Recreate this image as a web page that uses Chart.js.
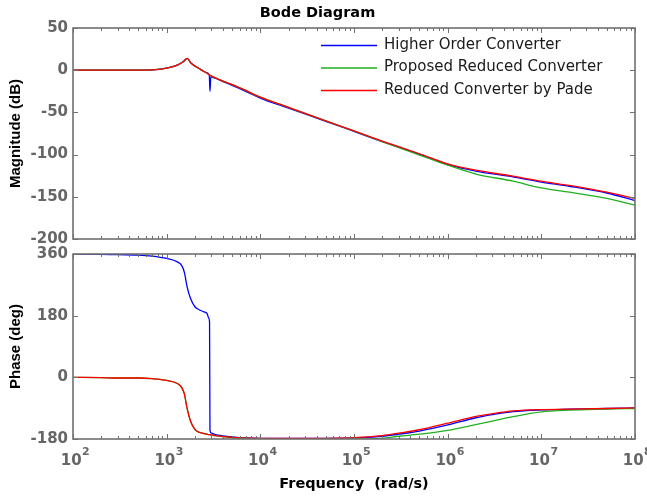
<!DOCTYPE html>
<html><head><meta charset="utf-8">
<script src="https://cdn.jsdelivr.net/npm/chart.js@4.4.1/dist/chart.umd.min.js"></script>
<style>
html,body{margin:0;padding:0;background:#fff;}
#wrap{position:relative;width:647px;height:499px;overflow:hidden;background:#fff;}
canvas{position:absolute;left:0;}
#c1{top:0px}
#c2{top:246px}
</style></head>
<body><div id="wrap"><canvas id="c1" width="647" height="246"></canvas><canvas id="c2" width="647" height="253"></canvas></div>
<script>
// ---------- data ----------
const seriesNames = ['Higher Order Converter', 'Proposed Reduced Converter', 'Reduced Converter by Pade'];
const seriesColors = ['#0000ff', '#1faf1f', '#ff0000'];

// magnitude (dB) vs frequency (rad/s)
const magFreq = [100, 200, 400, 700, 1000, 1300, 1500, 1660, 1800, 2000, 2300, 2600, 2850, 2900, 2960, 3300, 4000, 5000, 7000, 1e4, 2e4, 5e4, 1e5, 2e5, 5e5, 1e6, 2e6, 5e6, 1e7, 2e7, 5e7, 1e8];
const magHigher   = [0, 0, 0, 0.3, 2.5, 6, 10, 14, 9, 5, 1, -2.5, -5.5, -25, -8, -9.5, -13.5, -18, -25, -33, -45, -60.5, -72.5, -84.5, -99.5, -111.5, -119.5, -126.5, -132.5, -137.5, -145.5, -154.5];
const magProposed = [0, 0, 0, 0.5, 2.5, 6, 10, 14, 9, 5, 1, -2.5, -5.5, -6, -6.5, -9, -13, -17, -24, -32, -44, -60, -72, -84.5, -100.5, -112.5, -123, -131.5, -139.5, -144.5, -152, -160];
const magPade     = [0, 0, 0, 0.3, 2.5, 6, 10, 14, 9, 5, 1, -2.5, -5.5, -6, -6.5, -9, -13, -17, -24, -32, -44, -60, -72, -84, -99, -111, -118.5, -125.5, -131.5, -136.5, -144.5, -152];

// phase (deg) vs frequency (rad/s)
const phaseFreq = [100, 200, 300, 500, 700, 1000, 1300, 1450, 1550, 1650, 1800, 2000, 2200, 2500, 2700, 2820, 2870, 2900, 3000, 3300, 4000, 5000, 7000, 1e4, 2e4, 5e4, 1e5, 2e5, 3e5, 5e5, 1e6, 2e6, 3e6, 5e6, 1e7, 2e7, 5e7, 1e8];
const phaseHigher   = [360, 359, 358, 357, 354, 347, 337, 326, 305, 265, 230, 206, 198, 191, 186, 172, 160, -155, -163, -167, -171, -174, -177, -178, -178, -178, -177, -172, -166, -157, -139, -118, -109, -100, -95, -93, -91, -89];
const phaseProposed = [0, -1, -2, -2, -4, -9, -18, -30, -50, -90, -128, -152, -160, -164, -166, -167, -167, -167.5, -168, -170, -173, -176, -178, -179, -180, -180, -180, -178, -172, -166, -155, -138, -128, -115, -101, -96, -93, -91];
const phasePade     = [0, -1, -2, -2, -4, -9, -18, -30, -50, -90, -128, -152, -160, -164, -166, -167, -167, -167.5, -168, -170, -173, -175, -177, -178, -178, -178, -176, -170, -163, -153, -134, -114, -106, -98, -94, -93, -91, -89];

// ticks
const magTicks = [50, 0, -50, -100, -150, -200];
const phaseTicks = [360, 180, 0, -180];
const freqTicks = [1e2, 1e3, 1e4, 1e5, 1e6, 1e7, 1e8];
const freqTickBase = '10';
const freqTickExps = ['2', '3', '4', '5', '6', '7', '8'];

// ---------- styling helpers ----------
const AXIS_COLOR = '#707070';
const LABEL_GRAY = '#666666';
const TICK_FONT = {family: '"DejaVu Sans", sans-serif', size: 15, weight: 'bold'};
const YTITLE_FONT = {family: '"Liberation Sans", Arial, sans-serif', size: 15, weight: 'bold'};

function mkData(freq, vals) { return freq.map((f, i) => ({x: f, y: vals[i]})); }
function mkDatasets(freq, a, b, c) {
  return [a, b, c].map((vals, i) => ({
    label: seriesNames[i],
    data: mkData(freq, vals),
    borderColor: seriesColors[i],
    backgroundColor: seriesColors[i],
    borderWidth: 1.3,
    pointRadius: 0,
    fill: false,
    cubicInterpolationMode: 'monotone',
    order: 2 - i
  }));
}

const framePlugin = {
  id: 'matlabFrame',
  afterDatasetsDraw(chart) {
    const {ctx, chartArea: a, scales} = chart;
    const xs = scales.x, ys = scales.y;
    ctx.save();
    ctx.strokeStyle = AXIS_COLOR;
    ctx.lineWidth = 1;
    ctx.beginPath();
    for (let d = 2; d <= 8; d++) {
      for (let m = 1; m <= 9; m++) {
        const v = m * Math.pow(10, d);
        if (v > xs.max * 1.0001) break;
        const px = Math.round(xs.getPixelForValue(v)) + 0.5;
        const len = m === 1 ? 5 : 3;
        ctx.moveTo(px, a.bottom); ctx.lineTo(px, a.bottom - len);
        ctx.moveTo(px, a.top); ctx.lineTo(px, a.top + len);
      }
    }
    ys.ticks.forEach(t => {
      const py = Math.round(ys.getPixelForValue(t.value)) + 0.5;
      ctx.moveTo(a.left, py); ctx.lineTo(a.left + 5, py);
      ctx.moveTo(a.right, py); ctx.lineTo(a.right - 5, py);
    });
    ctx.stroke();
    ctx.lineWidth = 1.6;
    ctx.strokeRect(a.left, a.top, a.right - a.left, a.bottom - a.top);
    ctx.restore();
  }
};

const legendPlugin = {
  id: 'insideLegend',
  afterDraw(chart) {
    const {ctx, chartArea: a} = chart;
    ctx.save();
    ctx.font = '15px "DejaVu Sans", sans-serif';
    ctx.textBaseline = 'middle';
    ctx.textAlign = 'left';
    chart.data.datasets.forEach((ds, i) => {
      const y = a.top + 17 + i * 22.5;
      ctx.strokeStyle = ds.borderColor;
      ctx.lineWidth = 1.5;
      ctx.beginPath();
      ctx.moveTo(a.left + 248, y + 0.5); ctx.lineTo(a.left + 304, y + 0.5);
      ctx.stroke();
      ctx.fillStyle = '#1a1a1a';
      ctx.fillText(ds.label, a.left + 311, y);
    });
    ctx.restore();
  }
};

// decade labels 10^n drawn with a raised exponent at the x scale's tick pixels
const expLabelPlugin = {
  id: 'expLabels',
  afterDraw(chart) {
    const {ctx, chartArea: a, scales: {x}} = chart;
    ctx.save();
    ctx.fillStyle = LABEL_GRAY;
    ctx.textBaseline = 'alphabetic';
    ctx.textAlign = 'left';
    x.ticks.forEach(t => {
      const i = freqTicks.indexOf(t.value);
      if (i < 0) return;
      const px = x.getPixelForValue(t.value);
      ctx.font = 'bold 15px "DejaVu Sans", sans-serif';
      const wb = ctx.measureText(freqTickBase).width;
      ctx.font = 'bold 11px "DejaVu Sans", sans-serif';
      const we = ctx.measureText(freqTickExps[i]).width;
      const x0 = px - (wb + we) / 2 + 2;
      ctx.font = 'bold 15px "DejaVu Sans", sans-serif';
      ctx.fillText(freqTickBase, x0, a.bottom + 26);
      ctx.font = 'bold 11px "DejaVu Sans", sans-serif';
      ctx.fillText(freqTickExps[i], x0 + wb + 0.5, a.bottom + 16);
    });
    ctx.restore();
  }
};

function fixY(width) {
  return s => { s.width = width; s.paddingTop = 0; s.paddingBottom = 0; };
}

// ---------- magnitude chart ----------
new Chart(document.getElementById('c1'), {
  type: 'line',
  data: {datasets: mkDatasets(magFreq, magHigher, magProposed, magPade)},
  plugins: [framePlugin, legendPlugin],
  options: {
    responsive: false, animation: false, devicePixelRatio: 1, events: [],
    layout: {padding: {left: 0, right: 12, top: 0, bottom: 0}},
    plugins: {
      legend: {display: false},
      tooltip: {enabled: false},
      title: {display: true, text: 'Bode Diagram', color: '#000',
        font: {family: '"DejaVu Sans", sans-serif', size: 14.5, weight: 'bold'},
        padding: {top: 4.3, bottom: 6.3}}
    },
    scales: {
      x: {type: 'logarithmic', min: 1e2, max: 1e8,
        grid: {display: false, drawTicks: false}, border: {display: false},
        ticks: {display: false},
        afterFit: s => { s.height = 7; s.paddingLeft = 0; s.paddingRight = 0; }},
      y: {type: 'linear', min: -200, max: 50,
        afterBuildTicks: s => { s.ticks = magTicks.map(v => ({value: v})); },
        grid: {display: false, drawTicks: false}, border: {display: false},
        ticks: {color: LABEL_GRAY, font: TICK_FONT, padding: 5, callback: v => String(v)},
        title: {display: true, text: 'Magnitude (dB)', color: '#000', font: YTITLE_FONT, padding: {top: 6.5}},
        afterFit: fixY(73)}
    }
  }
});

// ---------- phase chart ----------
new Chart(document.getElementById('c2'), {
  type: 'line',
  data: {datasets: mkDatasets(phaseFreq, phaseHigher, phaseProposed, phasePade)},
  plugins: [framePlugin, expLabelPlugin],
  options: {
    responsive: false, animation: false, devicePixelRatio: 1, events: [],
    layout: {padding: {left: 0, right: 12, top: 8, bottom: 0}},
    plugins: {legend: {display: false}, tooltip: {enabled: false}},
    scales: {
      x: {type: 'logarithmic', min: 1e2, max: 1e8,
        afterBuildTicks: s => { s.ticks = freqTicks.map(v => ({value: v})); },
        grid: {display: false, drawTicks: false}, border: {display: false},
        ticks: {display: false},
        title: {display: true, text: 'Frequency  (rad/s)', color: '#000',
          font: {family: '"DejaVu Sans", sans-serif', size: 14.5, weight: 'bold'}, padding: {bottom: 5.9}},
        afterFit: s => { s.height = 60; s.paddingLeft = 0; s.paddingRight = 0; }},
      y: {type: 'linear', min: -180, max: 360,
        afterBuildTicks: s => { s.ticks = phaseTicks.map(v => ({value: v})); },
        grid: {display: false, drawTicks: false}, border: {display: false},
        ticks: {color: LABEL_GRAY, font: TICK_FONT, padding: 5, callback: v => String(v)},
        title: {display: true, text: 'Phase (deg)', color: '#000', font: YTITLE_FONT, padding: {top: 6.5}},
        afterFit: fixY(73)}
    }
  }
});
</script>
</body></html>
